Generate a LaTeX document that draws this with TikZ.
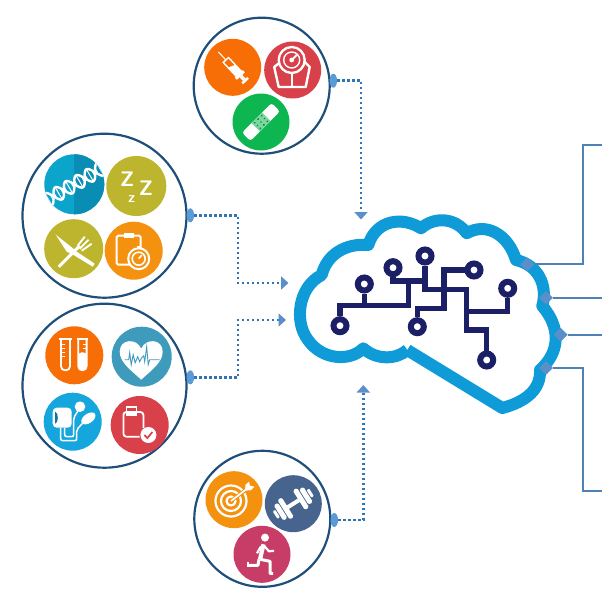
\documentclass[tikz,border=0pt]{standalone}
\usepackage{amsmath}
\usepackage{tikz}
\usetikzlibrary{arrows.meta, positioning, shapes.geometric}

\definecolor{ringblue}{HTML}{1F4E79}
\definecolor{portblue}{HTML}{5B9BD5}
\definecolor{dotblue}{HTML}{2E75B6}
\definecolor{headblue}{HTML}{5B8FC9}
\definecolor{wireblue}{HTML}{4F81B5}
\definecolor{cloudblue}{HTML}{0E9BD8}
\definecolor{chipnavy}{HTML}{1A1F66}
\definecolor{iorange}{HTML}{F76E07}
\definecolor{ired}{HTML}{D9414A}
\definecolor{igreen}{HTML}{0DB650}
\definecolor{idna}{HTML}{0BA5CC}
\definecolor{idnadark}{HTML}{0A8DB4}
\definecolor{iolive}{HTML}{BDB52E}
\definecolor{iamber}{HTML}{F4920F}
\definecolor{iteal}{HTML}{3E9BBB}
\definecolor{isky}{HTML}{16A6DE}
\definecolor{islate}{HTML}{47648F}
\definecolor{irose}{HTML}{C83C68}

\tikzset{
  group/.style={draw=ringblue, circle, line width=2.2pt, minimum size=#1, inner sep=0pt},
  icon/.style={circle, fill=#1, minimum size=57pt, inner sep=0pt},
  port/.style={ellipse, fill=portblue, minimum width=7.5pt, minimum height=14pt, inner sep=0pt},
  tap/.style={diamond, fill=headblue, minimum size=14pt, inner sep=0pt},
  pin/.style={circle, draw=chipnavy, fill=white, line width=6pt, minimum size=13pt, inner sep=0pt},
  trace/.style={draw=chipnavy, line width=5.4pt},
  feed/.style={draw=dotblue, line width=2.6pt, dash pattern=on 2.4pt off 2.6pt,
    -{Triangle[width=13pt, length=7.5pt, color=headblue]}},
  wire/.style={draw=wireblue, line width=2.2pt},
  glyph/.style={draw=white, line width=1.6pt},
  zed/.style={text=white, font=\sffamily\bfseries\fontsize{#1}{#1}\selectfont, inner sep=0pt}
}

\begin{document}
\begin{tikzpicture}[x=1pt, y=-1pt]
\useasboundingbox (0,0) rectangle (602,602);

% groups
\node [group=136pt] (grouptop)   at (261.7,85.7)  {};
\node [group=164pt] (groupgene)  at (104.5,215.7) {};
\node [group=164pt] (groupvital) at (104.5,385.7) {};
\node [group=136pt] (groupfit)   at (262.3,518.8) {};

\node [port] (porttop)   at (333.3,80.7)  {};
\node [port] (portgene)  at (190.3,215.3) {};
\node [port] (portvital) at (190.3,377.3) {};
\node [port] (portfit)   at (334.3,520)   {};

% icons
\node [icon=iorange] (syringe) at (232.7,67.3)  {};
\node [icon=ired]    (gauge)   at (292.7,70)    {};
\node [icon=igreen]  (plaster) at (261,122)     {};
\node [icon=idna, minimum size=60pt] (dna) at (74.3,184.3) {};
\node [icon=iolive, minimum size=60pt] (sleep) at (136.3,186) {};
\node [icon=iolive, minimum size=59pt] (food)  at (73.7,248.7) {};
\node [icon=iamber, minimum size=58pt] (timer) at (133.7,250.7) {};
\node [icon=iorange, minimum size=58pt] (tubes) at (74.3,355.3) {};
\node [icon=iteal, minimum size=60pt]   (heart) at (141.7,356.7) {};
\node [icon=isky, minimum size=58pt]    (cuff)  at (72.7,421.7) {};
\node [icon=ired, minimum size=58pt]    (chart) at (139.7,425) {};
\node [icon=iamber] (target) at (234,499.7)  {};
\node [icon=islate] (weight) at (293.3,503.7) {};
\node [icon=irose]  (runner) at (262,554.3)  {};

% syringe
\begin{scope}[shift={(syringe.center)}, rotate=-47]
\draw [glyph, line width=1.1pt] (-21,0) -- (-10,0);
\draw [glyph, line width=1.4pt] (-10,-3.6) rectangle (9,3.6);
\fill [white] (0,-3.6) -- (9,-3.6) -- (9,3.6) -- (-3,3.6) -- cycle;
\fill [white] (9,-5.5) rectangle (12,5.5);
\fill [white] (12,-1.8) rectangle (17,1.8);
\fill [white] (17,-4) rectangle (19.5,4);
\end{scope}

% gauge
\begin{scope}[shift={(gauge.center)}]
\draw [glyph, line width=2.4pt, line join=round] (-18.5,-3) -- (-11,-9) -- (11,-9) -- (17,-3) -- (13,17) -- (-14,17) -- cycle;
\draw [glyph, line width=2.2pt] (-1,2) -- (-1,17);
\filldraw [fill=ired, draw=white, line width=2.3pt] (-1,-10) circle (13);
\draw [glyph, line width=1.4pt] (-1,-10) circle (8);
\fill [white] (-1,-10) circle (2.4);
\draw [glyph, line width=1.9pt] (-1,-10) -- (5,-16);
\end{scope}

% plaster
\begin{scope}[shift={(plaster.center)}, rotate=45]
\fill [white, rounded corners=3pt] (-21,-6) rectangle (21,6);
\fill [igreen!55!white] (-7.5,-6) rectangle (7.5,6);
\foreach \i in {-5,0,5} \foreach \j in {-4,0,4}
  \fill [igreen!70!black] (\i,\j) circle (1);
\end{scope}

% dna
\begin{scope}
\clip (dna) circle (30);
\fill [idnadark] (74.3,150) rectangle (110,220);
\begin{scope}[shift={(dna.center)}, rotate=30]
\draw [glyph, line width=2.4pt] plot [domain=-34:34, samples=50, smooth] (\x,{7*sin(\x*15)});
\draw [glyph, line width=2.4pt] plot [domain=-34:34, samples=50, smooth] (\x,{-7*sin(\x*15)});
\foreach \i in {-30,-26,...,30}
  \draw [glyph, line width=1pt] (\i,{7*sin(\i*15)}) -- (\i,{-7*sin(\i*15)});
\end{scope}
\end{scope}

% sleep
\node [zed=21] (zedone) at (127.3,179)   {Z};
\node [zed=21] (zedtwo) at (146,188.3)   {Z};
\node [zed=15] (zedlow) at (131.6,199.5) {z};

% food
\begin{scope}[shift={(food.center)}]
\fill [white] (-18,-14) -- (-4,-3) -- (3,3) -- (21,15) -- (19,18) -- (1,7) -- (-7,3) -- cycle;
\draw [glyph, line width=3pt] (-15,18) -- (6,-3);
\draw [glyph, line width=1.9pt] (4,-3) -- (11,-12);
\draw [glyph, line width=1.9pt] (6,0) -- (15,-9);
\draw [glyph, line width=1.9pt] (8,2) -- (18,-5);
\end{scope}

% timer
\begin{scope}[shift={(timer.center)}]
\draw [glyph, line width=2pt, rounded corners=1.5pt] (-17,-15) rectangle (7,14);
\fill [white] (-10,-18) rectangle (0,-13);
\filldraw [fill=iamber, draw=white, line width=2pt] (5,8) circle (10.5);
\draw [glyph] (5,8) circle (6.5);
\draw [glyph] (5,8) -- (8,4.5);
\fill [white] (3,-5) rectangle (7,-2.5);
\end{scope}

% tubes
\begin{scope}[shift={(tubes.center)}]
\draw [glyph, line width=1.8pt, rounded corners=4pt] (-13.3,-16) -- (-13.3,15) -- (-4.3,15) -- (-4.3,-16);
\draw [glyph, line width=1.8pt] (-15,-16) -- (-2.6,-16);
\foreach \j in {-11,-7,-3,1} \draw [glyph, line width=0.9pt] (-13,\j) -- (-9.5,\j);
\draw [glyph, line width=1.8pt, rounded corners=4pt] (4,-16) -- (4,15) -- (12.3,15) -- (12.3,-16);
\fill [white, rounded corners=3.5pt] (4,-3) rectangle (12.3,15);
\draw [glyph, line width=1.8pt] (2.4,-16) -- (14,-16);
\foreach \j in {-11,-7} \draw [glyph, line width=0.9pt] (8.5,\j) -- (12,\j);
\end{scope}

% heart
\begin{scope}[shift={(heart.center)}]
\fill [white] (-0.5,23) .. controls (-10,14) and (-22,6) .. (-22,-5) .. controls (-22,-18) and (-5,-19) .. (-0.5,-8) .. controls (4,-19) and (21,-18) .. (21,-5) .. controls (21,6) and (9,14) .. (-0.5,23) -- cycle;
\draw [draw=iteal, line width=0.9pt] (-17,3) -- (-13,3) -- (-12,-4) -- (-10.5,8) -- (-8.5,-2) -- (-6.5,6) -- (-4,0) -- (-2,5) -- (0,1) -- (2,-1) -- (3,5) -- (5,-10) -- (6.5,8) -- (8,3) -- (18,3);
\end{scope}

% cuff
\begin{scope}[shift={(cuff.center)}]
\draw [glyph, line width=1.5pt, rounded corners=2pt] (-12,6) -- (-12,19) -- (4,19) -- (4,8) -- (13,-2);
\draw [glyph, line width=1.5pt, rounded corners=2pt] (-8,6) -- (-8,15) -- (1,15) -- (1,-4) -- (6,-12);
\fill [white, rounded corners=4pt] (-20,-14) rectangle (-1,6);
\fill [isky!70!black] (-17.5,-10) .. controls (-14,-9) and (-14,1) .. (-17.5,2) -- cycle;
\fill [white] (7.3,-15) circle (5.3);
\fill [white, rotate around={35:(15.7,-3.3)}] (15.7,-3.3) ellipse (8 and 4.7);
\end{scope}

% chart
\begin{scope}[shift={(chart.center)}]
\draw [glyph, line width=1.8pt, rounded corners=3pt] (-3,-13) -- (3.7,-13) -- (3.7,3);
\draw [glyph, line width=1.8pt, rounded corners=3pt] (-13,-13) -- (-16.3,-13) -- (-16.3,11.7) -- (0,11.7);
\draw [glyph, line width=1.4pt] (-13,-18) rectangle (-3,-10);
\fill [white] (-13,-14.5) rectangle (-3,-10);
\fill [white] (8.7,10) circle (8);
\draw [draw=ired, line width=1.7pt] (4.7,10) -- (7.7,13) -- (12.7,7);
\end{scope}

% target
\begin{scope}[shift={(target.center)}]
\draw [glyph, line width=2.2pt] (-3,1.3) circle (15.5);
\draw [glyph, line width=2.2pt] (-3,1.3) circle (10);
\draw [glyph, line width=2.2pt] (-3,1.3) circle (4.5);
\draw [draw=iamber, line width=3.6pt] (-2,0.5) -- (12,-10);
\draw [glyph, line width=1.7pt] (-3,1.3) -- (13,-11);
\fill [white] (11,-9) -- (11.5,-15) -- (15,-18) -- (16,-14) -- (20.5,-13) -- (17,-9.5) -- cycle;
\end{scope}

% weight
\begin{scope}[shift={(weight.center)}, rotate=32]
\fill [white] (-10,-2) rectangle (10,2);
\foreach \s in {-1,1} {
  \fill [white, rounded corners=1.5pt] ({\s*9-2.5},-11.5) rectangle ({\s*9+2.5},11.5);
  \fill [white, rounded corners=1.5pt] ({\s*15-2.5},-9) rectangle ({\s*15+2.5},9);
  \fill [white, rounded corners=1pt] ({\s*20-1.5},-4.5) rectangle ({\s*20+1.5},4.5);
}
\end{scope}

% runner
\begin{scope}[shift={(runner.center)}]
\fill [white] (3,-16.7) circle (4);
\draw [glyph, line width=4.2pt, line join=round] (1.5,-10) -- (-2,5);
\draw [glyph, line width=2.2pt, line join=round] (2,-8.5) -- (7,-3) -- (12,-3.5);
\draw [glyph, line width=2.2pt, line join=round] (-1,-8) -- (-5,-1);
\draw [glyph, line width=3pt, line join=round] (-2,5) -- (8,7) -- (8,19) -- (11,19);
\draw [glyph, line width=3pt, line join=round] (-3,5) -- (-4,11) -- (-14,11);
\draw [glyph, line width=2.4pt] (-14,7.5) -- (-14,13);
\end{scope}

% cloud
\draw [draw=cloudblue, line width=12pt, line join=round]
  (407.3,350) -- (502.3,408)
  .. controls (525,402) and (541,390) .. (540,370)
  .. controls (560,352) and (561,328) .. (542.3,306)
  .. controls (548,285) and (538,265) .. (516,260)
  .. controls (508,234) and (486,222) .. (466.7,233.3)
  .. controls (456,218) and (435,216) .. (421,228.3)
  .. controls (402,216) and (376,220) .. (368.3,245)
  .. controls (346,243) and (327,254) .. (321.7,275)
  .. controls (298,287) and (294,322) .. (308,340)
  .. controls (322,360) and (350,362) .. (363.3,348.3)
  .. controls (376,360) and (396,360) .. (407.3,350);

% circuit
\node [pin] (pina) at (340,325.7)   {};
\node [pin] (pinb) at (364.3,284)   {};
\node [pin] (pinc) at (393,267.7)   {};
\node [pin] (pind) at (425,256)     {};
\node [pin] (pine) at (474,270)     {};
\node [pin] (pinf) at (507.7,288.3) {};
\node [pin] (ping) at (417.3,326.7) {};
\node [pin] (pinh) at (486.7,360)   {};

\path [trace] (pina.north) |- (408.3,305.7) -- (408.3,281) -| (pinc.south);
\path [trace] (pinb.south) -- (364.3,305.7);
\path [trace] (408.3,281) -- (425,281);
\path [trace] (pind.south) |- (466.7,289.3) -- (466.7,330) -| (pinh.north);
\path [trace] (pine.west) -| (444,308.3) -| (ping.north);
\path [trace] (pinf.south) |- (466.7,311.7);

% right side
\node [tap] (tapa) at (527.3,264.3) {};
\node [tap] (tapb) at (546,297.7)   {};
\node [tap] (tapc) at (560.7,334.7) {};
\node [tap] (tapd) at (546,368)     {};
\coordinate (enda) at (602,145);
\coordinate (endb) at (602,297.7);
\coordinate (endc) at (602,334.7);
\coordinate (endd) at (602,491);
\coordinate (bena) at (583.3,264.3);
\coordinate (bend) at (583.3,368);

\path [wire] (tapa.east) -- (bena) |- (enda);
\path [wire] (tapb.east) -- (endb);
\path [wire] (tapc.east) -- (endc);
\path [wire] (tapd.east) -- (bend) |- (endd);

% feeds
\coordinate (intop)   at (361,219.5);
\coordinate (ingene)  at (288.5,283);
\coordinate (invital) at (286,320);
\coordinate (infit)   at (363.3,385);
\coordinate (kneegene)  at (238,283);
\coordinate (kneevital) at (238,320);

\path [feed] (porttop.east) -| (intop);
\path [feed] (portgene.east) -| (kneegene) -- (ingene);
\path [feed] (portvital.east) -| (kneevital) -- (invital);
\path [feed] (portfit.east) -| (infit);

\end{tikzpicture}
\end{document}
